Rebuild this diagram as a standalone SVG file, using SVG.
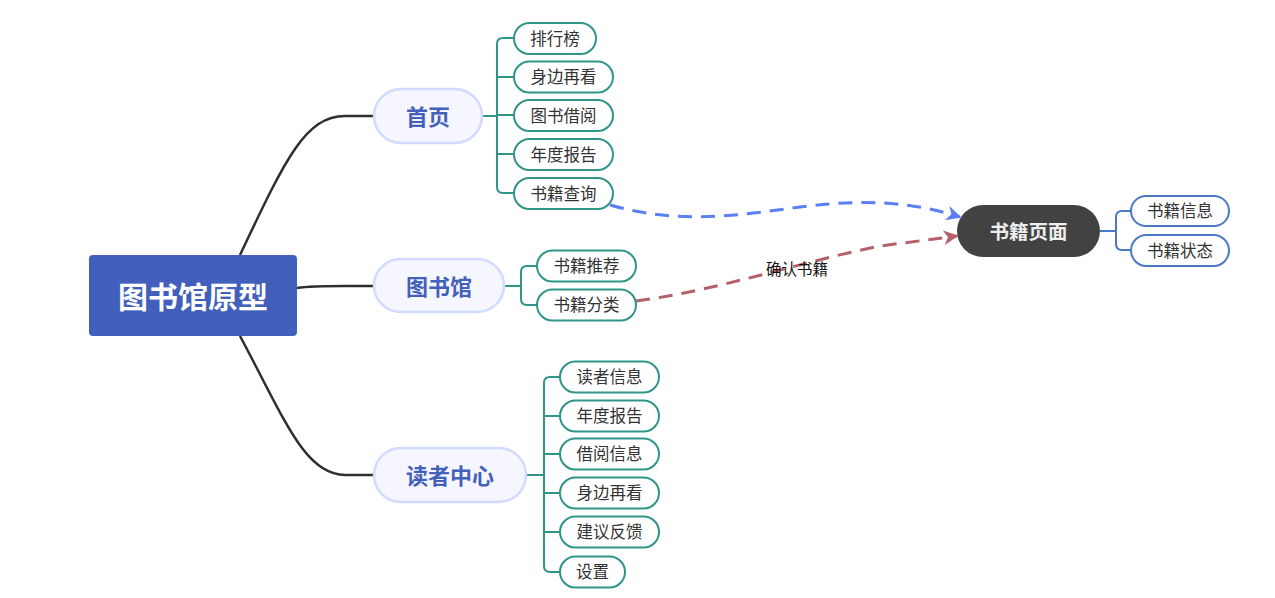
<svg xmlns="http://www.w3.org/2000/svg" width="1275" height="598" viewBox="0 0 1275 598">
<defs>
<style>
text{font-family:"Noto Sans CJK SC","Noto Sans",sans-serif;text-anchor:middle;dominant-baseline:central}
.main rect{fill:#F5F6FF;stroke:#D3DAFF;stroke-width:2.5}
.main text{fill:#4360BB;font-size:22px;font-weight:bold}
.leaf rect{fill:#fff;stroke:#2E9588;stroke-width:2}
.leaf text{fill:#333;font-size:16.5px}
.bleaf rect{fill:#fff;stroke:#4B78C4;stroke-width:2}
.bleaf text{fill:#333;font-size:16.5px}
.trunk{fill:none;stroke:#2E2E2E;stroke-width:2.5}
.br{fill:none;stroke:#2E9588;stroke-width:2}
.bbr{fill:none;stroke:#4B78C4;stroke-width:2}
</style>
<marker id="ab" viewBox="0 0 10 10" refX="9" refY="5" markerWidth="5" markerHeight="5" orient="auto" markerUnits="strokeWidth"><path d="M0,0 L10,5 L0,10 L3,5 Z" fill="#5B7FF5"/></marker>
<marker id="ar" viewBox="0 0 10 10" refX="9" refY="5" markerWidth="5" markerHeight="5" orient="auto" markerUnits="strokeWidth"><path d="M0,0 L10,5 L0,10 L3,5 Z" fill="#B5606A"/></marker>
</defs>
<rect width="1275" height="598" fill="#fff"/>
<g id="connectors">
<path class="trunk" d="M240,255 C285,160 305,116 345,116 L374,116"/>
<path class="trunk" d="M297,288 C310,286 320,286 345,286 L374,286"/>
<path class="trunk" d="M240,336 C285,420 305,475 345,475 L374,475"/>
<path class="br" d="M482,116 H497 M514,38 H503 Q497,38 497,44 V187 Q497,193 503,193 H514 M497,77 H514 M497,115 H514 M497,154 H514"/>
<path class="br" d="M504,286 H521 M537,266 H527 Q521,266 521,272 V299 Q521,305 527,305 H537"/>
<path class="br" d="M526,475 H544 M560,377 H550 Q544,377 544,383 V566 Q544,572 550,572 H560 M544,416 H560 M544,454 H560 M544,493 H560 M544,532 H560"/>
<path class="bbr" d="M1100,231 H1116 M1131,211 H1122 Q1116,211 1116,217 V244 Q1116,250 1122,250 H1131"/>
<path d="M610,205 C680,225 740,215 800,207 C870,198 915,203 960,217" fill="none" stroke="#5B7FF5" stroke-width="3" stroke-dasharray="14,9" marker-end="url(#ab)"/>
<path d="M636,301 C720,290 800,262 880,246 L957,236" fill="none" stroke="#B5606A" stroke-width="3" stroke-dasharray="14,9" marker-end="url(#ar)"/>
<text x="797" y="268" font-size="15.5" fill="#111">确认书籍</text>
</g>
<g id="root"><rect x="89" y="255" width="208" height="81" rx="4" fill="#425FBB"/><text x="193" y="294.5" font-size="30" font-weight="bold" fill="#fff">图书馆原型</text></g>
<g id="n-home" class="main"><rect x="374" y="89" width="108" height="54" rx="27"/><text x="428" y="115">首页</text></g>
<g id="n-lib" class="main"><rect x="374" y="259" width="130" height="53" rx="26.5"/><text x="439" y="285">图书馆</text></g>
<g id="n-reader" class="main"><rect x="374" y="448" width="152" height="54" rx="27"/><text x="450" y="474">读者中心</text></g>
<g id="h1" class="leaf"><rect x="514" y="23" width="82" height="31" rx="15.5"/><text x="555" y="37.5">排行榜</text></g>
<g id="h2" class="leaf"><rect x="514" y="61.5" width="99" height="31" rx="15.5"/><text x="563.5" y="76">身边再看</text></g>
<g id="h3" class="leaf"><rect x="514" y="100" width="99" height="31" rx="15.5"/><text x="563.5" y="114.5">图书借阅</text></g>
<g id="h4" class="leaf"><rect x="514" y="139" width="99" height="31" rx="15.5"/><text x="563.5" y="153.5">年度报告</text></g>
<g id="h5" class="leaf"><rect x="514" y="178" width="99" height="31" rx="15.5"/><text x="563.5" y="192.5">书籍查询</text></g>
<g id="l1" class="leaf"><rect x="537" y="250.5" width="99" height="31" rx="15.5"/><text x="586.5" y="265">书籍推荐</text></g>
<g id="l2" class="leaf"><rect x="537" y="289.5" width="99" height="31" rx="15.5"/><text x="586.5" y="304">书籍分类</text></g>
<g id="r1" class="leaf"><rect x="560" y="361.5" width="99" height="31" rx="15.5"/><text x="609.5" y="376">读者信息</text></g>
<g id="r2" class="leaf"><rect x="560" y="400.5" width="99" height="31" rx="15.5"/><text x="609.5" y="415">年度报告</text></g>
<g id="r3" class="leaf"><rect x="560" y="438.5" width="99" height="31" rx="15.5"/><text x="609.5" y="453">借阅信息</text></g>
<g id="r4" class="leaf"><rect x="560" y="477.5" width="99" height="31" rx="15.5"/><text x="609.5" y="492">身边再看</text></g>
<g id="r5" class="leaf"><rect x="560" y="516.5" width="99" height="31" rx="15.5"/><text x="609.5" y="531">建议反馈</text></g>
<g id="r6" class="leaf"><rect x="560" y="556.5" width="65" height="31" rx="15.5"/><text x="592.5" y="571">设置</text></g>
<g id="book"><rect x="957" y="205" width="143" height="52" rx="26" fill="#424242"/><text x="1028.5" y="230" font-size="19.5" font-weight="bold" fill="#eee">书籍页面</text></g>
<g id="b1" class="bleaf"><rect x="1131" y="196" width="98" height="30" rx="15"/><text x="1180" y="210">书籍信息</text></g>
<g id="b2" class="bleaf"><rect x="1131" y="235" width="98" height="31" rx="15.5"/><text x="1180" y="249.5">书籍状态</text></g>
</svg>
